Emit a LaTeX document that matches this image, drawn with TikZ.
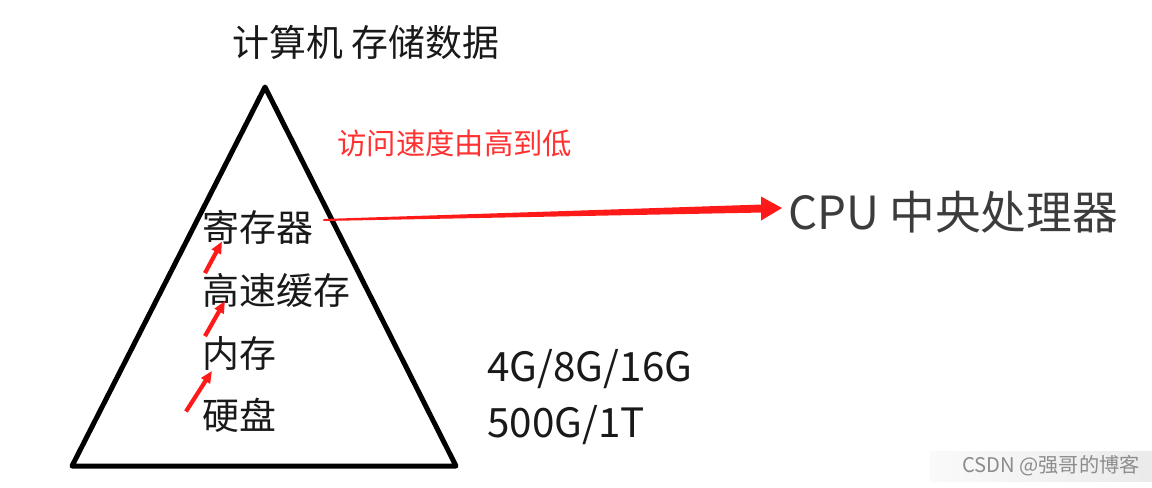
\documentclass[tikz,border=0pt]{standalone}
\usepackage{fontspec}
\setmainfont{Noto Sans CJK SC}
\usetikzlibrary{positioning,calc,arrows.meta}
\definecolor{penred}{HTML}{FF1A1A}
\definecolor{inkgray}{HTML}{3C3C3C}
\tikzset{
  layer/.style={inner sep=0pt, anchor=west, text=black!90, font=\fontsize{21pt}{21pt}\selectfont},
  sizes/.style={inner sep=0pt, anchor=west, text=black!90, font=\fontsize{23pt}{23pt}\selectfont},
  uparrow/.style={penred, line width=2.4pt, -{Triangle[length=0.24cm,width=0.2cm]}},
}

\begin{document}
\begin{tikzpicture}[x=0.02cm,y=-0.02cm]
\useasboundingbox (0,0) rectangle (1152,487);
\coordinate (apex) at (265,87);
\coordinate (bl) at (72,466);
\coordinate (br) at (456,466);
\draw[line width=0.1cm, line join=round, line cap=round] (apex) -- (bl) -- (br) -- cycle;

\node[inner sep=0pt, text=black!90, font=\fontsize{21pt}{21pt}\selectfont] (title) at (366,42) {计算机 存储数据};
\node[inner sep=0pt, anchor=west, text=penred!90, font=\fontsize{16.7pt}{16.7pt}\selectfont] (speed) at (337,143) {访问速度由高到低};

\node[layer] (reg) at (202,227) {寄存器};
\node[layer, below=1.27cm of reg.west, anchor=west] (cache) {高速缓存};
\node[layer, below=1.26cm of cache.west, anchor=west] (mem) {内存};
\node[layer, below=1.24cm of mem.west, anchor=west] (disk) {硬盘};

\node[inner sep=0pt, anchor=west, text=inkgray, font=\fontsize{26pt}{26pt}\selectfont] (cpu) at (788,212) {CPU 中央处理器};

\node[sizes] (ram) at (487,369) {4G/8G/16G};
\node[sizes, below=1.12cm of ram.west, anchor=west] (hdd) {500G/1T};

% access path
\draw[uparrow] ($(cache.north west)+(3,0)$) -- ($(reg.south west)+(20,-3)$);
\draw[uparrow] ($(mem.north west)+(3,0)$) -- ($(cache.south west)+(23,-7)$);
\draw[uparrow] ($(disk.west)+(-16,-4)$) -- ($(mem.south west)+(10,0)$);

\coordinate (tail) at ($(reg.east)+(10,-7)$);
\coordinate (tip) at ($(cpu.west)+(-6,-4)$);
\coordinate (base) at ($(tip)!0.42cm!(tail)$);
\fill[penred] ($(tail)+(0,1)$) -- ($(base)+(0,4)$) -- ($(base)+(0,12)$) -- (tip)
  -- ($(base)+(0,-12)$) -- ($(base)+(0,-4)$) -- ($(tail)+(0,-1)$) -- cycle;

\shade[left color=black!2, right color=black!8] (930,451) rectangle (1152,481);
\node[inner sep=0pt, anchor=east, text=black!45, font=\fontsize{11.5pt}{11.5pt}\selectfont] (mark) at (1140,466) {CSDN @强哥的博客};
\end{tikzpicture}
\end{document}
